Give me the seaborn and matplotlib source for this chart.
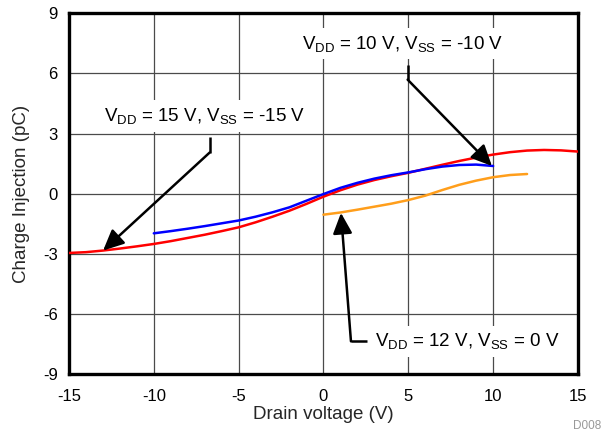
import numpy as np
import pandas as pd
import matplotlib
matplotlib.use("Agg")
import matplotlib.pyplot as plt
import seaborn as sns

# ---- data ----
x_red = [-15, -14, -13, -12, -11, -10, -9, -8, -7, -6, -5, -4, -3, -2, -1, 0,
         1, 2, 3, 4, 5, 6, 7, 8, 9, 10, 11, 12, 13, 14, 15]
y_red = [-2.96, -2.92, -2.84, -2.74, -2.63, -2.51, -2.37, -2.21, -2.05, -1.87, -1.68,
         -1.43, -1.15, -0.85, -0.51, -0.15, 0.17, 0.45, 0.68, 0.87, 1.04, 1.24, 1.44,
         1.63, 1.80, 1.95, 2.07, 2.15, 2.18, 2.16, 2.10]
x_blue = [-10, -9, -8, -7, -6, -5, -4, -3, -2, -1, 0, 1, 2, 3, 4, 5, 6, 7, 8, 9, 10]
y_blue = [-1.98, -1.87, -1.75, -1.62, -1.48, -1.34, -1.15, -0.93, -0.68, -0.35, -0.02,
          0.29, 0.54, 0.75, 0.92, 1.06, 1.22, 1.35, 1.43, 1.45, 1.38]
x_orange = [0, 1, 2, 3, 4, 5, 6, 7, 8, 9, 10, 11, 12]
y_orange = [-1.05, -0.94, -0.80, -0.65, -0.50, -0.32, -0.10, 0.18, 0.44, 0.65, 0.82,
            0.93, 0.98]
series_names = ["VDD=15,VSS=-15", "VDD=10,VSS=-10", "VDD=12,VSS=0"]
x_ticks = [-15, -10, -5, 0, 5, 10, 15]
y_ticks = [-9, -6, -3, 0, 3, 6, 9]

df = pd.concat([
    pd.DataFrame({"x": x_red, "y": y_red, "s": series_names[0]}),
    pd.DataFrame({"x": x_blue, "y": y_blue, "s": series_names[1]}),
    pd.DataFrame({"x": x_orange, "y": y_orange, "s": series_names[2]}),
])

sns.set_style("white")
plt.rcParams["font.family"] = ["Liberation Sans", "DejaVu Sans"]
plt.rcParams["mathtext.default"] = "regular"
plt.rcParams["axes.unicode_minus"] = False

fig = plt.figure(figsize=(6.03, 4.36), dpi=100)
ax = fig.add_axes([0.1144, 0.1422, 0.8441, 0.8273])

ax.set_xlim(-15, 15)
ax.set_ylim(-9, 9)
ax.set_xticks(x_ticks)
ax.set_yticks(y_ticks)
ax.grid(True, color="#4a4a4a", linewidth=0.9)
ax.set_axisbelow(True)

sns.lineplot(data=df, x="x", y="y", hue="s", sort=False, estimator=None,
             palette={series_names[0]: "#ff0000", series_names[1]: "#0000ff",
                      series_names[2]: "#ff9e1b"},
             linewidth=1.8, legend=False, ax=ax, zorder=3)

for s in ax.spines.values():
    s.set_linewidth(2.4)
    s.set_color("black")
ax.tick_params(axis="both", length=0, labelsize=12, colors="black")
ax.tick_params(axis="x", pad=11)
ax.tick_params(axis="y", pad=8)
ax.set_xlabel("Drain voltage (V)", fontsize=13.5, labelpad=1)
ax.set_ylabel("Charge Injection (pC)", fontsize=13.5, labelpad=9)

box = dict(boxstyle="square,pad=0.3", fc="white", ec="none")
lab_kw = dict(fontsize=13.5, zorder=5, bbox=box, color="black")
ax.text(4.66, 7.48, "V$_{DD}$ = 10 V, V$_{SS}$ = -10 V", ha="center", va="center", **lab_kw)
ax.text(-6.98, 3.87, "V$_{DD}$ = 15 V, V$_{SS}$ = -15 V", ha="center", va="center", **lab_kw)
ax.text(3.03, -7.37, "V$_{DD}$ = 12 V, V$_{SS}$ = 0 V", ha="left", va="center", **lab_kw)

arrow = dict(arrowstyle="-|>,head_length=0.9,head_width=0.42", color="black",
             lw=1.8, mutation_scale=14, shrinkA=0, shrinkB=0)
# 10 V connector
ax.plot([4.96, 4.96], [6.42, 5.69], color="black", lw=1.8, zorder=6,
        solid_capstyle="butt")
ax.annotate("", xy=(9.93, 1.38), xytext=(4.96, 5.69), arrowprops=arrow, zorder=6)
# 15 V connector
ax.plot([-6.71, -6.71], [2.85, 2.05], color="black", lw=1.8, zorder=6,
        solid_capstyle="butt")
ax.annotate("", xy=(-12.99, -2.84), xytext=(-6.71, 2.05), arrowprops=arrow, zorder=6)
# 12 V connector
ax.plot([2.56, 1.62], [-7.37, -7.37], color="black", lw=1.8, zorder=6,
        solid_capstyle="butt")
ax.annotate("", xy=(1.03, -0.96), xytext=(1.62, -7.37), arrowprops=arrow, zorder=6)

fig.text(573 / 603, 1 - 426 / 436, "D008", fontsize=8.5, color="#999999",
         ha="left", va="center")

fig.savefig("out.png", dpi=100)
